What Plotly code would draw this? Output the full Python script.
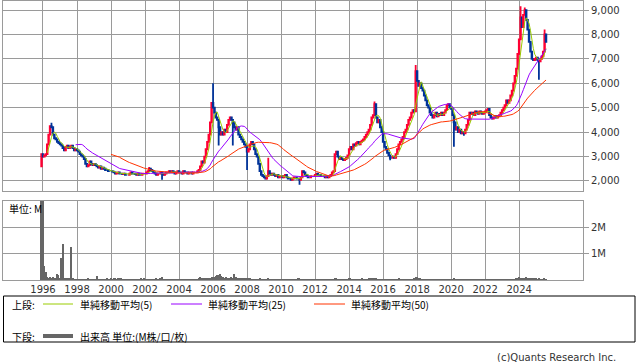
import pandas as pd
import plotly.graph_objects as go

# ---------------- data (monthly, Dec 1995 - Aug 2025) ----------------
start_month = "1995-12-01"
first_open = 2600

close = [
    3100,                                                                  # 1995 Dec
    3000, 3050, 3100, 3500, 3900, 4250, 4200, 3900, 3750, 3700, 3600, 3550,  # 1996
    3500, 3450, 3350, 3250, 3400, 3450, 3350, 3400, 3450, 3350, 3250, 3300,  # 1997
    3250, 3200, 3100, 3050, 3000, 2900, 2700, 2600, 2650, 2800, 2700, 2650,  # 1998
    2700, 2650, 2600, 2550, 2600, 2500, 2550, 2500, 2450, 2450, 2400, 2400,  # 1999
    2400, 2380, 2350, 2300, 2320, 2350, 2300, 2300, 2280, 2300, 2250, 2250,  # 2000
    2250, 2300, 2350, 2300, 2300, 2280, 2250, 2300, 2250, 2250, 2300, 2300,  # 2001
    2300, 2350, 2400, 2500, 2450, 2400, 2350, 2300, 2250, 2300, 2300, 2350,  # 2002
    2300, 2250, 2300, 2350, 2350, 2400, 2350, 2400, 2350, 2300, 2350, 2400,  # 2003
    2350, 2350, 2300, 2400, 2350, 2350, 2300, 2350, 2350, 2300, 2350, 2350,  # 2004
    2350, 2400, 2450, 2600, 2800, 2750, 3000, 3300, 3600, 3900, 4400, 5200,  # 2005
    5000, 4800, 4600, 4500, 4200, 3900, 4000, 3900, 4100, 4000, 4300, 4500,  # 2006
    4600, 4500, 4400, 4200, 4100, 4200, 3900, 3800, 3700, 3600, 3500, 3400,  # 2007
    3200, 3300, 3500, 3600, 3500, 3300, 3100, 3000, 2700, 2400, 2250, 2200,  # 2008
    2150, 2100, 2200, 2400, 2300, 2250, 2300, 2250, 2200, 2250, 2150, 2200,  # 2009
    2200, 2150, 2200, 2250, 2150, 2100, 2100, 2050, 2100, 2150, 2150, 2100,  # 2010
    2100, 2050, 2150, 2400, 2350, 2250, 2200, 2150, 2150, 2200, 2200, 2200,  # 2011
    2250, 2300, 2250, 2250, 2200, 2200, 2200, 2150, 2200, 2150, 2200, 2250,  # 2012
    2350, 2400, 3100, 3200, 3000, 2900, 2950, 2900, 2850, 2900, 2950, 3050,  # 2013
    3300, 3400, 3300, 3500, 3450, 3550, 3600, 3500, 3600, 3650, 3700, 3800,  # 2014
    3900, 4000, 4100, 4300, 4600, 4700, 5150, 4600, 4400, 4500, 4200, 4000,  # 2015
    3600, 3400, 3300, 3150, 3050, 2950, 2950, 3000, 2950, 3100, 3300, 3500,  # 2016
    3600, 3700, 3800, 4000, 4100, 4300, 4500, 4600, 4800, 4900, 4850, 6500,  # 2017
    6100, 5900, 6000, 5800, 5700, 5500, 5300, 5100, 5000, 4800, 4700, 4600,  # 2018
    4700, 4800, 4650, 4750, 4700, 4800, 4700, 4800, 4900, 5100, 5150, 5000,  # 2019
    4950, 4700, 4400, 4100, 4200, 4000, 4100, 3950, 4000, 3950, 4100, 4300,  # 2020
    4500, 4800, 4750, 4800, 4700, 4850, 4800, 4750, 4850, 4800, 4750, 4800,  # 2021
    4850, 4900, 4950, 4700, 4600, 4550, 4600, 4650, 4600, 4650, 4700, 4800,  # 2022
    4900, 5000, 5100, 5300, 5200, 5300, 5500, 5700, 6000, 6300, 6600, 7200,  # 2023
    7800, 8700, 8300, 8800, 9000, 8600, 8200, 7700, 7300, 7000, 6950, 7000,  # 2024
    7050, 6950, 6900, 7000, 7100, 7300, 8000, 7700,                          # 2025
]

# notable wicks beyond the candle bodies
wick_high = {"2006-01": 6000, "2017-12": 6750, "2024-02": 9150, "2024-05": 9100,
             "2025-07": 8200, "2015-07": 5250, "2009-04": 2950, "2002-04": 2570,
             "1996-07": 4380}
wick_low = {"1995-12": 2570, "2006-05": 3450, "2007-03": 3450, "2008-01": 2450,
            "2011-02": 1850, "2003-01": 2050, "2020-03": 3400, "2025-03": 6150,
            "2016-06": 2850, "2020-10": 3850}

volume_m = [
    4.0,                                                                    # 1995 Dec
    3.2, 0.55, 0.3, 0.1, 0.08, 0.1, 0.08, 0.1, 0.06, 0.05, 0.23, 0.2,        # 1996
    0.05, 0.85, 1.38, 0.08, 0.08, 0.06, 0.08, 0.05, 1.27, 0.05, 0.03, 0.02,  # 1997
    0.02, 0.01, 0.01, 0.02, 0.01, 0.01, 0.02, 0.01, 0.05, 0.01, 0.01, 0.02,  # 1998
    0.02, 0.03, 0.15, 0.03, 0.01, 0.01, 0.01, 0.01, 0.02, 0.07, 0.01, 0.02,  # 1999
    0.05, 0.03, 0.05, 0.04, 0.03, 0.07, 0.05, 0.04, 0.03, 0.02, 0.02, 0.02,  # 2000
    0.03, 0.02, 0.02, 0.01, 0.01, 0.02, 0.01, 0.01, 0.01, 0.05, 0.02, 0.05,  # 2001
    0.01, 0.01, 0.02, 0.02, 0.01, 0.01, 0.01, 0.01, 0.05, 0.02, 0.01, 0.05,  # 2002
    0.12, 0.02, 0.01, 0.01, 0.01, 0.01, 0.01, 0.01, 0.01, 0.01, 0.01, 0.01,  # 2003
    0.01, 0.01, 0.01, 0.01, 0.01, 0.01, 0.01, 0.01, 0.01, 0.02, 0.01, 0.02,  # 2004
    0.02, 0.03, 0.05, 0.12, 0.05, 0.05, 0.04, 0.06, 0.07, 0.06, 0.08, 0.1,   # 2005
    0.12, 0.1, 0.15, 0.18, 0.2, 0.22, 0.16, 0.1, 0.08, 0.1, 0.06, 0.08,      # 2006
    0.08, 0.1, 0.06, 0.23, 0.1, 0.05, 0.06, 0.05, 0.04, 0.04, 0.05, 0.05,    # 2007
    0.05, 0.04, 0.04, 0.03, 0.03, 0.02, 0.03, 0.02, 0.03, 0.05, 0.02, 0.02,  # 2008
    0.02, 0.03, 0.02, 0.04, 0.02, 0.01, 0.01, 0.01, 0.02, 0.01, 0.01, 0.01,  # 2009
    0.01, 0.01, 0.02, 0.01, 0.01, 0.01, 0.01, 0.01, 0.01, 0.02, 0.01, 0.01,  # 2010
    0.08, 0.05, 0.02, 0.02, 0.01, 0.01, 0.01, 0.01, 0.01, 0.01, 0.01, 0.01,  # 2011
    0.01, 0.02, 0.01, 0.01, 0.01, 0.01, 0.01, 0.01, 0.01, 0.01, 0.01, 0.01,  # 2012
    0.01, 0.02, 0.04, 0.04, 0.03, 0.02, 0.02, 0.02, 0.02, 0.02, 0.02, 0.02,  # 2013
    0.06, 0.04, 0.03, 0.02, 0.02, 0.02, 0.02, 0.02, 0.03, 0.04, 0.03, 0.03,  # 2014
    0.03, 0.03, 0.04, 0.05, 0.05, 0.06, 0.05, 0.04, 0.03, 0.03, 0.02, 0.02,  # 2015
    0.02, 0.02, 0.02, 0.02, 0.02, 0.02, 0.02, 0.02, 0.02, 0.03, 0.03, 0.04,  # 2016
    0.03, 0.02, 0.02, 0.02, 0.02, 0.02, 0.02, 0.02, 0.02, 0.03, 0.04, 0.1,   # 2017
    0.12, 0.06, 0.04, 0.03, 0.03, 0.03, 0.02, 0.02, 0.02, 0.03, 0.02, 0.02,  # 2018
    0.02, 0.01, 0.01, 0.01, 0.01, 0.01, 0.01, 0.01, 0.01, 0.02, 0.02, 0.02,  # 2019
    0.02, 0.03, 0.04, 0.02, 0.02, 0.01, 0.01, 0.01, 0.02, 0.01, 0.01, 0.02,  # 2020
    0.02, 0.03, 0.02, 0.02, 0.02, 0.02, 0.02, 0.02, 0.02, 0.02, 0.02, 0.02,  # 2021
    0.02, 0.02, 0.02, 0.02, 0.02, 0.02, 0.02, 0.02, 0.02, 0.02, 0.02, 0.02,  # 2022
    0.02, 0.02, 0.02, 0.02, 0.02, 0.03, 0.03, 0.03, 0.03, 0.03, 0.04, 0.05,  # 2023
    0.1, 0.09, 0.08, 0.07, 0.08, 0.1, 0.08, 0.06, 0.05, 0.05, 0.04, 0.04,    # 2024
    0.04, 0.03, 0.04, 0.03, 0.03, 0.03, 0.05, 0.03,                          # 2025
]

year_ticks = list(range(1996, 2025, 2))
price_ticks = [2000, 3000, 4000, 5000, 6000, 7000, 8000, 9000]
volume_ticks = [1, 2]
volume_tick_text = ["1M", "2M"]
ma_periods = [5, 25, 50]
ma_names = ["単純移動平均(5)", "単純移動平均(25)", "単純移動平均(50)"]

# ---------------- derived ----------------
dates = pd.date_range(start_month, periods=len(close), freq="MS")
s_close = pd.Series(close, index=dates)
opens = [first_open] + close[:-1]
keys = [d.strftime("%Y-%m") for d in dates]
highs = [max(o, c, wick_high.get(k, 0)) for o, c, k in zip(opens, close, keys)]
lows = [min(o, c, wick_low.get(k, 10**9)) for o, c, k in zip(opens, close, keys)]
mas = [s_close.rolling(p).mean() for p in ma_periods]

# ---------------- styling ----------------
W, H = 638, 362
L, R, T, B = 3, 583, 1, 280          # plot area in px
def px(x):
    return (x - L) / (R - L)
def py(y):
    return (B - y) / (B - T)

UP, DOWN = "#ff0033", "#003399"
MA_COLORS = ["#99cc00", "#9900ff", "#ff3300"]
GRID = "#9a9a9a"
VOL = "#666666"
TXT = "#333333"
CJK = "Noto Sans CJK JP, DejaVu Sans, sans-serif"
LAT = "DejaVu Sans, sans-serif"

fig = go.Figure()
fig.add_trace(go.Candlestick(
    x=dates, open=opens, high=highs, low=lows, close=close,
    increasing=dict(line=dict(color=UP, width=1.8), fillcolor=UP),
    decreasing=dict(line=dict(color=DOWN, width=1.8), fillcolor=DOWN),
    whiskerwidth=0, xaxis="x", yaxis="y", showlegend=False, hoverinfo="skip",
))
for ma, col in zip(mas, MA_COLORS):
    fig.add_trace(go.Scatter(x=dates, y=ma, mode="lines", line=dict(color=col, width=1),
                             xaxis="x", yaxis="y", showlegend=False, hoverinfo="skip"))
fig.add_trace(go.Bar(x=dates, y=volume_m, marker=dict(color=VOL, line=dict(width=0)),
                     width=26 * 86400000, xaxis="x2", yaxis="y2", showlegend=False,
                     hoverinfo="skip"))

xr = ["1993-08-25", "2027-10-04"]
tickv = [f"{y}-01-01" for y in year_ticks]
top_dom = [py(190.5), 1.0]
bot_dom = [0.0, py(201)]

common_x = dict(range=xr, type="date", tickvals=tickv, showgrid=True, gridcolor=GRID,
                gridwidth=1, showline=True, mirror=True, linecolor=GRID, linewidth=1,
                zeroline=False, ticks="", rangeslider=dict(visible=False), fixedrange=True)

fig.update_layout(
    width=W, height=H, margin=dict(l=L, r=W - R, t=T, b=H - B, autoexpand=False),
    paper_bgcolor="white", plot_bgcolor="white", bargap=0,
    font=dict(family=LAT, size=10, color=TXT),
    xaxis=dict(**common_x, domain=[0, 1], anchor="y", showticklabels=False),
    xaxis2=dict(**common_x, domain=[0, 1], anchor="y2", showticklabels=True,
                ticktext=[str(y) for y in year_ticks],
                tickfont=dict(family=LAT, size=10, color=TXT)),
    yaxis=dict(domain=top_dom, range=[1610, 9370], side="right", tickvals=price_ticks,
               tickformat=",d", showgrid=True, gridcolor=GRID, gridwidth=1,
               showline=True, mirror=True, linecolor=GRID, zeroline=False,
               ticks="outside", ticklen=5, tickcolor=GRID, anchor="x",
               tickfont=dict(family=LAT, size=10, color=TXT)),
    yaxis2=dict(domain=bot_dom, range=[0, 3], side="right", tickvals=volume_ticks,
                ticktext=volume_tick_text, showgrid=True, gridcolor=GRID, gridwidth=1,
                showline=True, mirror=True, linecolor=GRID, zeroline=False,
                ticks="outside", ticklen=5, tickcolor=GRID, anchor="x2",
                tickfont=dict(family=LAT, size=10, color=TXT)),
)

shapes = []
ann = []
# unit label inside volume panel
ann.append(dict(x=px(7), y=py(209), xref="paper", yref="paper", text="単位: M",
                showarrow=False, xanchor="left", yanchor="middle",
                font=dict(family=CJK, size=10, color="#000")))
# legend box
shapes.append(dict(type="rect", xref="paper", yref="paper", x0=px(3.5), x1=px(635),
                   y0=py(296), y1=py(342), line=dict(color="#000", width=1)))
ann.append(dict(x=px(10), y=py(304), xref="paper", yref="paper", text="上段:",
                showarrow=False, xanchor="left", yanchor="middle",
                font=dict(family=CJK, size=10, color="#000")))
leg_line_x = [(43, 73), (171, 202), (314, 345)]
leg_text_x = [78, 206, 349]
for (a, b), tx, col, name in zip(leg_line_x, leg_text_x, MA_COLORS, ma_names):
    shapes.append(dict(type="line", xref="paper", yref="paper", x0=px(a), x1=px(b),
                       y0=py(304), y1=py(304), line=dict(color=col, width=1)))
    ann.append(dict(x=px(tx), y=py(304), xref="paper", yref="paper", text=name,
                    showarrow=False, xanchor="left", yanchor="middle",
                    font=dict(family=CJK, size=10, color="#000")))
ann.append(dict(x=px(10), y=py(336), xref="paper", yref="paper", text="下段:",
                showarrow=False, xanchor="left", yanchor="middle",
                font=dict(family=CJK, size=10, color="#000")))
shapes.append(dict(type="line", xref="paper", yref="paper", x0=px(43), x1=px(73),
                   y0=py(336), y1=py(336), line=dict(color=VOL, width=4)))
ann.append(dict(x=px(78), y=py(336), xref="paper", yref="paper",
                text="出来高 単位:(M株/口/枚)", showarrow=False, xanchor="left",
                yanchor="middle", font=dict(family=CJK, size=10, color="#000")))
ann.append(dict(x=px(618), y=py(357), xref="paper", yref="paper",
                text="(c)Quants Research Inc.", showarrow=False, xanchor="right",
                yanchor="middle", font=dict(family=LAT, size=10, color=TXT)))
fig.update_layout(shapes=shapes, annotations=ann)

fig.write_html("out.html", config={"displayModeBar": False},
               post_script="document.body.style.margin='0';document.body.style.padding='0';")
